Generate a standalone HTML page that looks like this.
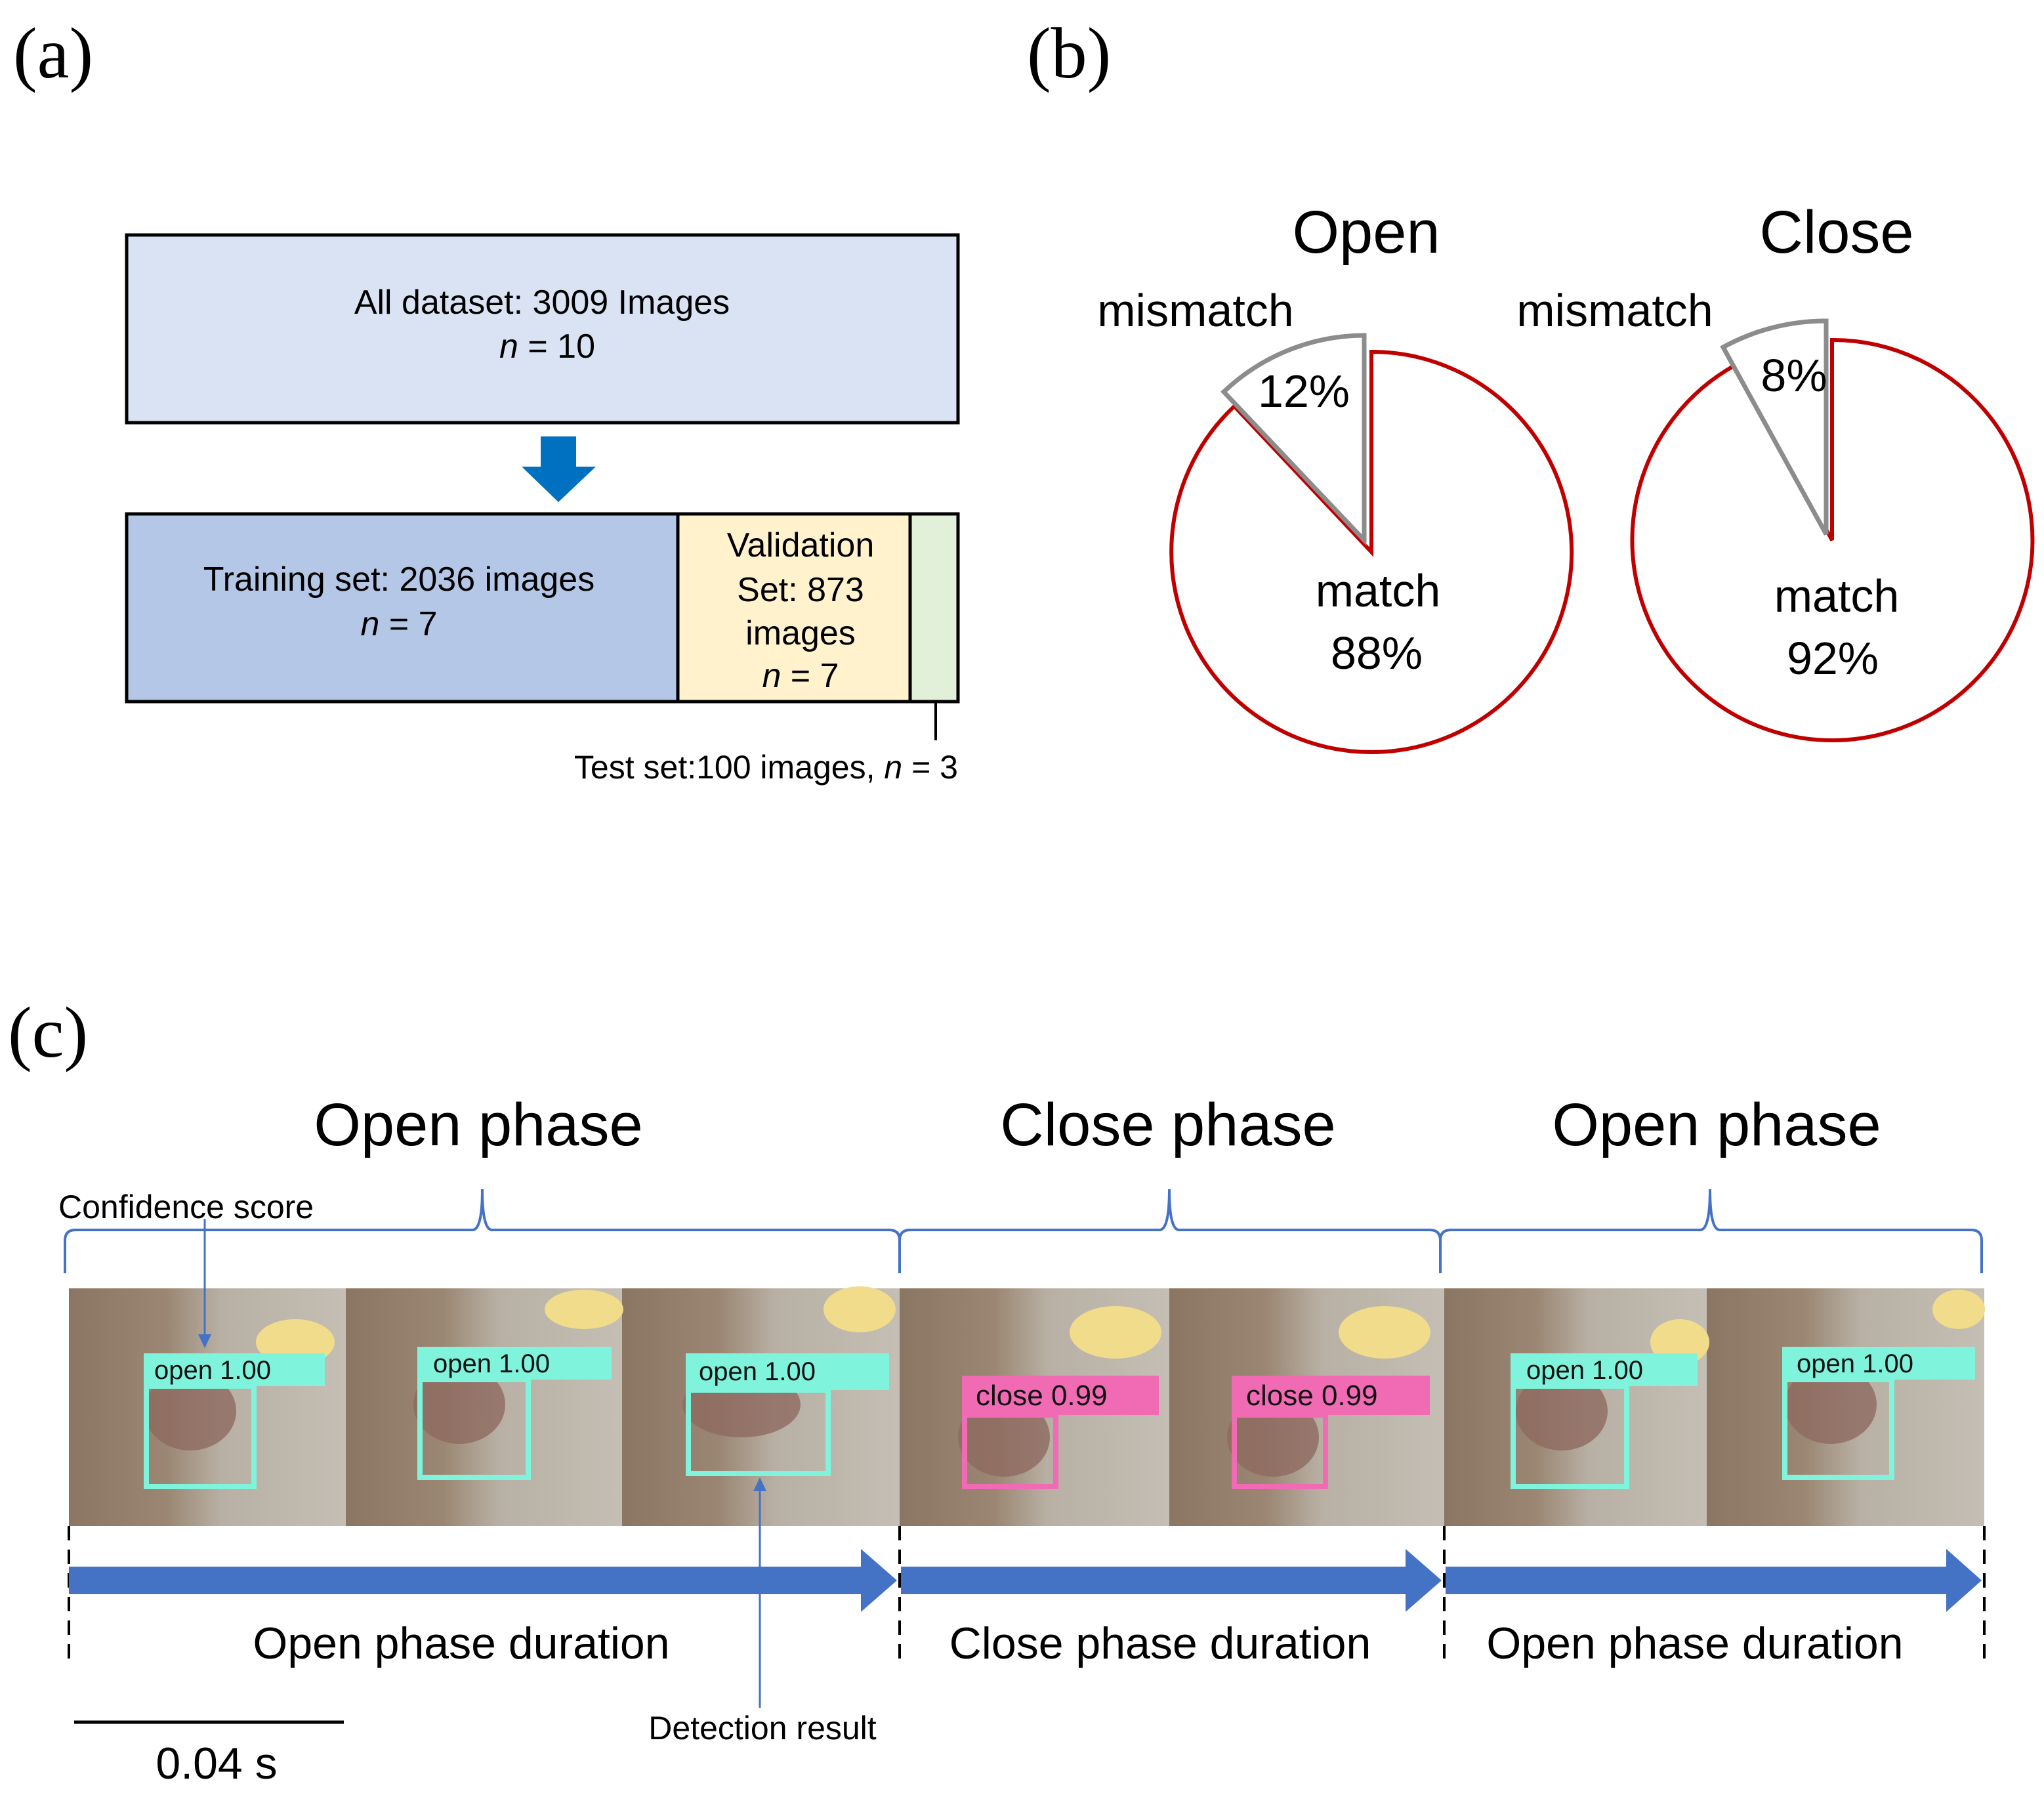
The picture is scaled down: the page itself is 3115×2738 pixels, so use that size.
<!DOCTYPE html>
<html><head><meta charset="utf-8"><style>
html,body{margin:0;padding:0;background:#fff;}
svg{display:block;}
</style></head><body>
<svg width="3115" height="2738" viewBox="0 0 3115 2738" xmlns="http://www.w3.org/2000/svg" font-family="Liberation Sans, sans-serif">
<defs>
<linearGradient id="bg" x1="0" y1="0" x2="1" y2="0">
<stop offset="0" stop-color="#8a7662"/><stop offset="0.35" stop-color="#9a8672"/><stop offset="0.55" stop-color="#b8b0a4"/><stop offset="1" stop-color="#c4beb4"/>
</linearGradient>
</defs>
<!-- panel labels -->
<text x="20" y="118" font-family="Liberation Serif, serif" font-size="110">(a)</text>
<text x="1565" y="118" font-family="Liberation Serif, serif" font-size="110">(b)</text>
<text x="12" y="1610" font-family="Liberation Serif, serif" font-size="110">(c)</text>

<!-- panel a -->
<rect x="193" y="358" width="1267" height="286" fill="#dae3f3" stroke="#000" stroke-width="5"/>
<text x="826" y="478" font-size="52" text-anchor="middle">All dataset: 3009 Images</text>
<text x="834" y="545" font-size="52" text-anchor="middle"><tspan font-style="italic">n</tspan> = 10</text>
<polygon points="824,665 878,665 878,711 908,711 851,765 795,711 824,711" fill="#0070c0"/>
<rect x="193" y="783" width="840" height="286" fill="#b4c7e7" stroke="#000" stroke-width="5"/>
<rect x="1033" y="783" width="354" height="286" fill="#fff2cc" stroke="#000" stroke-width="5"/>
<rect x="1387" y="783" width="73" height="286" fill="#e2f0d9" stroke="#000" stroke-width="5"/>
<text x="608" y="900" font-size="52" text-anchor="middle">Training set: 2036 images</text>
<text x="608" y="968" font-size="52" text-anchor="middle"><tspan font-style="italic">n</tspan> = 7</text>
<text x="1220" y="848" font-size="52" text-anchor="middle">Validation</text>
<text x="1220" y="916" font-size="52" text-anchor="middle">Set: 873</text>
<text x="1220" y="982" font-size="52" text-anchor="middle">images</text>
<text x="1220" y="1047" font-size="52" text-anchor="middle"><tspan font-style="italic">n</tspan> = 7</text>
<line x1="1426" y1="1069" x2="1426" y2="1128" stroke="#000" stroke-width="4"/>
<text x="1460" y="1186" font-size="50" text-anchor="end">Test set:100 images, <tspan font-style="italic">n</tspan> = 3</text>

<!-- panel b -->
<text x="2082" y="385" font-size="92" text-anchor="middle">Open</text>
<text x="2799" y="385" font-size="92" text-anchor="middle">Close</text>
<text x="1822" y="497" font-size="70" text-anchor="middle">mismatch</text>
<text x="2461" y="497" font-size="70" text-anchor="middle">mismatch</text>
<!-- open pie -->
<path d="M2090,841 L2090,536 A305,305 0 1 1 1881,619 Z" fill="#fff" stroke="#c00000" stroke-width="6" stroke-linejoin="miter"/>
<path d="M2079,823 L2079,511 A312,312 0 0 0 1865,597 Z" fill="#fff" stroke="#8c8c8c" stroke-width="7"/>
<text x="1987" y="620" font-size="70" text-anchor="middle">12%</text>
<text x="2100" y="924" font-size="70" text-anchor="middle">match</text>
<text x="2098" y="1019" font-size="70" text-anchor="middle">88%</text>
<!-- close pie -->
<path d="M2792,823 L2792,518 A305,305 0 1 1 2645,556 Z" fill="#fff" stroke="#c00000" stroke-width="6"/>
<path d="M2783,814 L2783,489 A325,325 0 0 0 2626,529 Z" fill="#fff" stroke="#8c8c8c" stroke-width="7"/>
<text x="2734" y="596" font-size="70" text-anchor="middle">8%</text>
<text x="2799" y="932" font-size="70" text-anchor="middle">match</text>
<text x="2793" y="1027" font-size="70" text-anchor="middle">92%</text>

<!-- panel c titles -->
<text x="729" y="1745" font-size="92" text-anchor="middle">Open  phase</text>
<text x="1780" y="1745" font-size="92" text-anchor="middle">Close  phase</text>
<text x="2616" y="1745" font-size="92" text-anchor="middle">Open  phase</text>

<!-- braces -->
<g fill="none" stroke="#4472c4" stroke-width="4">
<path d="M99,1940 L99,1890 Q99,1874 115,1874 L720,1874 Q735,1874 735,1812 Q735,1874 750,1874 L1355,1874 Q1371,1874 1371,1890 L1371,1940"/>
<path d="M1371,1940 L1371,1890 Q1371,1874 1387,1874 L1767,1874 Q1782,1874 1782,1812 Q1782,1874 1797,1874 L2179,1874 Q2195,1874 2195,1890 L2195,1940"/>
<path d="M2195,1940 L2195,1890 Q2195,1874 2211,1874 L2591,1874 Q2606,1874 2606,1812 Q2606,1874 2621,1874 L3004,1874 Q3020,1874 3020,1890 L3020,1940"/>
</g>
<text x="89" y="1856" font-size="50">Confidence score</text>

<!-- frames -->
<g>
<rect x="105" y="1963" width="2919" height="362" fill="#bdb6ab"/>
<g id="frames">
<rect x="105" y="1963" width="422" height="362" fill="url(#bg)"/>
<rect x="527" y="1963" width="421" height="362" fill="url(#bg)"/>
<rect x="948" y="1963" width="423" height="362" fill="url(#bg)"/>
<rect x="1371" y="1963" width="411" height="362" fill="url(#bg)"/>
<rect x="1782" y="1963" width="419" height="362" fill="url(#bg)"/>
<rect x="2201" y="1963" width="400" height="362" fill="url(#bg)"/>
<rect x="2601" y="1963" width="423" height="362" fill="url(#bg)"/>
</g>
<g fill="#f1dc8c">
<ellipse cx="450" cy="2045" rx="60" ry="35"/>
<ellipse cx="890" cy="1995" rx="60" ry="30"/>
<ellipse cx="1310" cy="1995" rx="55" ry="35"/>
<ellipse cx="1700" cy="2030" rx="70" ry="40"/>
<ellipse cx="2110" cy="2030" rx="70" ry="40"/>
<ellipse cx="2560" cy="2045" rx="45" ry="35"/>
<ellipse cx="2985" cy="1995" rx="40" ry="30"/>
</g>
<g fill="#8e6a60" opacity="0.8">
<ellipse cx="290" cy="2150" rx="70" ry="60"/>
<ellipse cx="700" cy="2140" rx="70" ry="60"/>
<ellipse cx="1130" cy="2140" rx="90" ry="50"/>
<ellipse cx="1530" cy="2190" rx="70" ry="60"/>
<ellipse cx="1940" cy="2190" rx="70" ry="60"/>
<ellipse cx="2380" cy="2150" rx="70" ry="60"/>
<ellipse cx="2790" cy="2140" rx="70" ry="60"/>
</g>
</g>
<!-- detection boxes -->
<g fill="none" stroke="#7ff3dc" stroke-width="8">
<rect x="223" y="2112" width="164" height="153"/>
<rect x="640" y="2102" width="165" height="149"/>
<rect x="1049" y="2118" width="213" height="127"/>
<rect x="2306" y="2112" width="173" height="153"/>
<rect x="2720" y="2102" width="163" height="149"/>
</g>
<g fill="none" stroke="#f06ab4" stroke-width="8">
<rect x="1470" y="2156" width="139" height="109"/>
<rect x="1881" y="2156" width="139" height="109"/>
</g>
<g fill="#7ff3dc">
<rect x="219" y="2062" width="276" height="50"/>
<rect x="636" y="2052" width="296" height="50"/>
<rect x="1045" y="2062" width="310" height="56"/>
<rect x="2302" y="2062" width="285" height="50"/>
<rect x="2716" y="2052" width="294" height="50"/>
</g>
<g fill="#f06ab4">
<rect x="1466" y="2096" width="300" height="60"/>
<rect x="1877" y="2096" width="302" height="60"/>
</g>
<g font-size="40" fill="#111">
<text x="235" y="2101">open  1.00</text>
<text x="660" y="2091">open  1.00</text>
<text x="1065" y="2103">open  1.00</text>
<text x="2326" y="2101">open  1.00</text>
<text x="2738" y="2091">open  1.00</text>
<text x="1487" y="2141" font-size="44">close  0.99</text>
<text x="1899" y="2141" font-size="44">close  0.99</text>
</g>

<!-- confidence arrow -->
<line x1="312" y1="1857" x2="312" y2="2035" stroke="#4472c4" stroke-width="3"/>
<polygon points="302,2033 322,2033 312,2054" fill="#4472c4"/>
<!-- detection arrow -->
<line x1="1158" y1="2602" x2="1158" y2="2270" stroke="#4472c4" stroke-width="3"/>
<polygon points="1148,2272 1168,2272 1158,2251" fill="#4472c4"/>
<text x="1162" y="2650" font-size="50" text-anchor="middle">Detection result</text>

<!-- dashed lines -->
<g stroke="#000" stroke-width="4" stroke-dasharray="22,14">
<line x1="105" y1="2325" x2="105" y2="2533"/>
<line x1="1371" y1="2325" x2="1371" y2="2533"/>
<line x1="2201" y1="2325" x2="2201" y2="2533"/>
<line x1="3024" y1="2325" x2="3024" y2="2533"/>
</g>
<!-- blue arrows -->
<g fill="#4472c4">
<polygon points="105,2387 1312,2387 1312,2360 1367,2408 1312,2456 1312,2429 105,2429"/>
<polygon points="1373,2387 2142,2387 2142,2360 2197,2408 2142,2456 2142,2429 1373,2429"/>
<polygon points="2203,2387 2966,2387 2966,2360 3020,2408 2966,2456 2966,2429 2203,2429"/>
</g>
<text x="703" y="2527" font-size="68" text-anchor="middle">Open phase duration</text>
<text x="1768" y="2527" font-size="68" text-anchor="middle">Close phase duration</text>
<text x="2583" y="2527" font-size="68" text-anchor="middle">Open phase duration</text>
<!-- scale bar -->
<line x1="113" y1="2624" x2="524" y2="2624" stroke="#000" stroke-width="5"/>
<text x="330" y="2710" font-size="68" text-anchor="middle">0.04 s</text>
</svg>
</body></html>
